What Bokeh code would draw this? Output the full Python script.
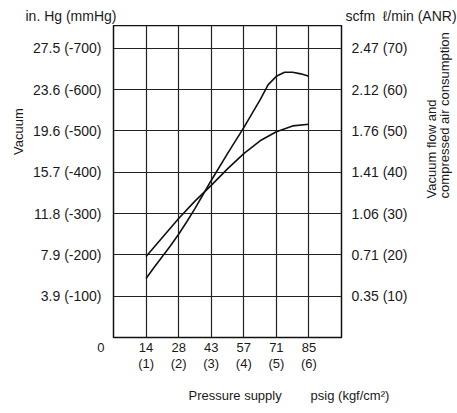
from math import pi
from bokeh.plotting import figure
from bokeh.models import Range1d, LinearAxis, FixedTicker, Title
from bokeh.layouts import column, row
from bokeh.core.properties import value
from bokeh.embed import file_html
from bokeh.resources import INLINE

# ---- data ----
x_ticks = [0, 1, 2, 3, 4, 5, 6]
x_tick_labels = ["0" + "\u00a0" * 7, "14\n(1)", "28\n(2)", "43\n(3)", "57\n(4)", "71\n(5)", "85\n(6)"]
grid_x = [1, 2, 3, 4, 5, 6]
y_ticks = [1, 2, 3, 4, 5, 6, 7]
left_labels = ["3.9 (-100)", "7.9 (-200)", "11.8 (-300)", "15.7 (-400)",
               "19.6 (-500)", "23.6 (-600)", "27.5 (-700)"]
right_labels = ["0.35 (10)", "0.71 (20)", "1.06 (30)", "1.41 (40)",
                "1.76 (50)", "2.12 (60)", "2.47 (70)"]
unit_texts = ["in. Hg (mmHg)", "scfm\u00a0\u00a0\u2113/min (ANR)"]
left_title = ["Vacuum"]
right_title = ["Vacuum flow and", "compressed air consumption"]

# curve crossing from above (flow / consumption)
x_a = [1.0, 1.5, 2.0, 2.5, 3.0, 3.5, 4.0, 4.5, 5.0, 5.5, 6.0]
y_a = [1.96, 2.42, 2.88, 3.30, 3.68, 4.08, 4.45, 4.76, 4.98, 5.12, 5.16]
# curve rising from below and peaking
x_b = [1.0, 1.25, 1.5, 1.75, 2.0, 2.25, 2.5, 2.75, 3.0, 3.5, 4.0, 4.5, 4.75, 5.0, 5.25, 5.5, 5.75, 6.0]
y_b = [1.43, 1.70, 1.96, 2.22, 2.50, 2.80, 3.12, 3.46, 3.80, 4.45, 5.08, 5.75, 6.12, 6.32, 6.42, 6.42, 6.38, 6.32]

FONT = "Liberation Sans"
TXT = "#1a1a1a"
NB = "\u00a0"


def blank(w, h):
    f = figure(width=w, height=h, x_range=Range1d(0, w), y_range=Range1d(0, h),
               min_border=0, x_axis_location=None, y_axis_location=None,
               toolbar_location=None, output_backend="svg")
    f.outline_line_color = None
    f.grid.visible = False
    f.background_fill_color = "white"
    f.border_fill_color = "white"
    return f


# header strip with the two unit captions
top = blank(457, 25)
top.text(x=[25, 345], y=[10, 10], text=unit_texts, text_font=value(FONT),
         text_font_size="14px", text_color=TXT, text_align="left", text_baseline="middle")

# left strip with the vacuum axis title
lside = blank(30, 388)
lside.text(x=[17.5], y=[256], text=left_title, angle=pi / 2, text_font=value(FONT),
           text_font_size="13px", text_color=TXT, text_align="center", text_baseline="middle")

# main chart
p = figure(width=380, height=388, x_range=Range1d(0, 7), y_range=Range1d(0, 7.55),
           output_backend="svg", toolbar_location=None,
           min_border_left=83, min_border_right=65, min_border_top=0, min_border_bottom=76)
p.background_fill_color = "white"
p.border_fill_color = "white"
p.outline_line_color = "#111111"
p.outline_line_width = 1.5

x_title = Title(text="Pressure supply" + NB * 8 + "psig (kgf/cm\u00b2)",
                align="left", offset=75, standoff=22, text_font=FONT,
                text_font_size="13px", text_font_style="normal", text_color=TXT)
p.add_layout(x_title, "below")

right = LinearAxis()
p.add_layout(right, "right")

for ax in [p.xaxis[0], p.yaxis[0], right]:
    ax.axis_line_color = None
    ax.major_tick_line_color = None
    ax.minor_tick_line_color = None
    ax.major_label_text_font = FONT
    ax.major_label_text_color = TXT
    ax.major_label_text_font_size = "14px"

p.xaxis[0].ticker = FixedTicker(ticks=x_ticks)
p.xaxis[0].major_label_overrides = {t: l for t, l in zip(x_ticks, x_tick_labels)}
p.xaxis[0].major_label_standoff = -4
p.xaxis[0].major_label_text_font_size = "13px"
p.xaxis[0].major_label_text_line_height = 1.1

p.yaxis[0].ticker = FixedTicker(ticks=y_ticks)
p.yaxis[0].major_label_overrides = {t: l for t, l in zip(y_ticks, left_labels)}
p.yaxis[0].major_label_standoff = 6

right.ticker = FixedTicker(ticks=y_ticks)
right.major_label_overrides = {t: l for t, l in zip(y_ticks, right_labels)}
right.major_label_standoff = 4

p.xgrid.ticker = FixedTicker(ticks=grid_x)
p.ygrid.ticker = FixedTicker(ticks=y_ticks)
for g in [p.xgrid[0], p.ygrid[0]]:
    g.grid_line_color = "#222222"
    g.grid_line_width = 1.2
    g.grid_line_alpha = 1.0

p.line(x_a, y_a, line_color="#111111", line_width=1.6)
p.line(x_b, y_b, line_color="#111111", line_width=1.6)

# side strip with the right axis title (reads bottom-to-top)
side = blank(47, 388)
side.text(x=[21, 34], y=[173, 173], text=right_title, angle=pi / 2, text_font=value(FONT),
          text_font_size="13px", text_color=TXT, text_align="left", text_baseline="middle")

layout = column(top, row(lside, p, side, spacing=0), spacing=0)
open("out.html", "w").write(file_html(layout, INLINE))
